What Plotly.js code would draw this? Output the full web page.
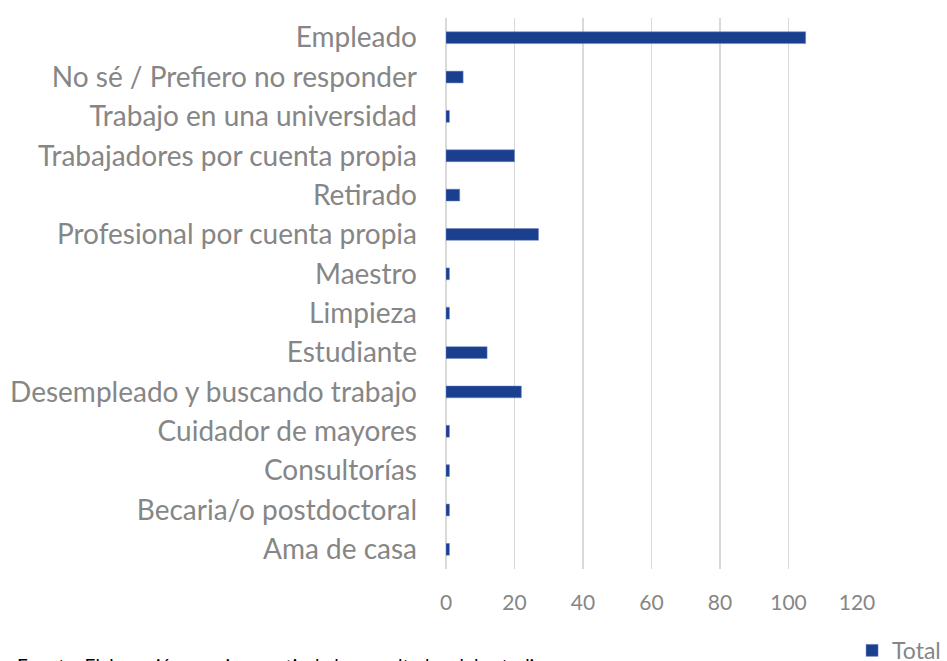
<!DOCTYPE html>
<html>
<head>
<meta charset="utf-8">
<script src="https://cdn.plot.ly/plotly-3.0.1.min.js"></script>
<style>html,body{margin:0;padding:0;background:#fff;}#chart{width:947px;height:661px;}</style>
</head>
<body>
<div id="chart"></div>
<script>
const categories = [
  "Empleado",
  "No sé / Prefiero no responder",
  "Trabajo en una universidad",
  "Trabajadores por cuenta propia",
  "Retirado",
  "Profesional por cuenta propia",
  "Maestro",
  "Limpieza",
  "Estudiante",
  "Desempleado y buscando trabajo",
  "Cuidador de mayores",
  "Consultorías",
  "Becaria/o postdoctoral",
  "Ama de casa"
];
const totals = [105, 5, 1, 20, 4, 27, 1, 1, 12, 22, 1, 1, 1, 1];
const xTicks = [0, 20, 40, 60, 80, 100, 120];
const seriesName = "Total";
const sourceText = "Fuente: Elaboración propia a partir de los resultados del estudio";

const trace = {
  type: "bar",
  orientation: "h",
  y: categories,
  x: totals,
  name: seriesName,
  marker: {color: "#1b3f8f", line: {color: "#6f86c0", width: 0.5}},
  width: 0.3,
  showlegend: true,
  hoverinfo: "x+y"
};

const layout = {
  width: 947,
  height: 661,
  margin: {l: 446, r: 90, t: 18, b: 92, autoexpand: false},
  paper_bgcolor: "#ffffff",
  plot_bgcolor: "#ffffff",
  font: {family: "Lato, 'Open Sans', sans-serif", color: "#868686"},
  xaxis: {
    range: [0, 120],
    tickvals: xTicks,
    ticktext: xTicks.map(String),
    showgrid: true,
    gridcolor: "#d9d9d9",
    gridwidth: 1.5,
    zeroline: true,
    zerolinecolor: "#d9d9d9",
    zerolinewidth: 1.5,
    showline: false,
    ticks: "",
    tickfont: {size: 21, color: "#868686"},
    ticklabelstandoff: 19,
    automargin: false,
    fixedrange: true
  },
  yaxis: {
    categoryorder: "array",
    categoryarray: categories.slice().reverse(),
    autorange: false,
    range: [-0.5, categories.length - 0.5],
    showgrid: false,
    zeroline: false,
    showline: false,
    ticks: "",
    tickfont: {size: 28, color: "#868686"},
    ticklabelstandoff: 28,
    automargin: false,
    fixedrange: true
  },
  showlegend: true,
  legend: {
    xref: "container", yref: "container",
    x: 0.999, xanchor: "right",
    y: 0.016, yanchor: "middle",
    orientation: "h",
    font: {size: 23, color: "#868686"},
    itemwidth: 30,
    bgcolor: "rgba(0,0,0,0)"
  },
  annotations: [{
    text: sourceText,
    xref: "paper", yref: "paper",
    x: -1.049, y: -0.151,
    xanchor: "left", yanchor: "top",
    showarrow: false,
    font: {size: 19, color: "#000000", family: "Lato, sans-serif"}
  }]
};

Plotly.newPlot("chart", [trace], layout, {displayModeBar: false, staticPlot: true});
</script>
</body>
</html>
